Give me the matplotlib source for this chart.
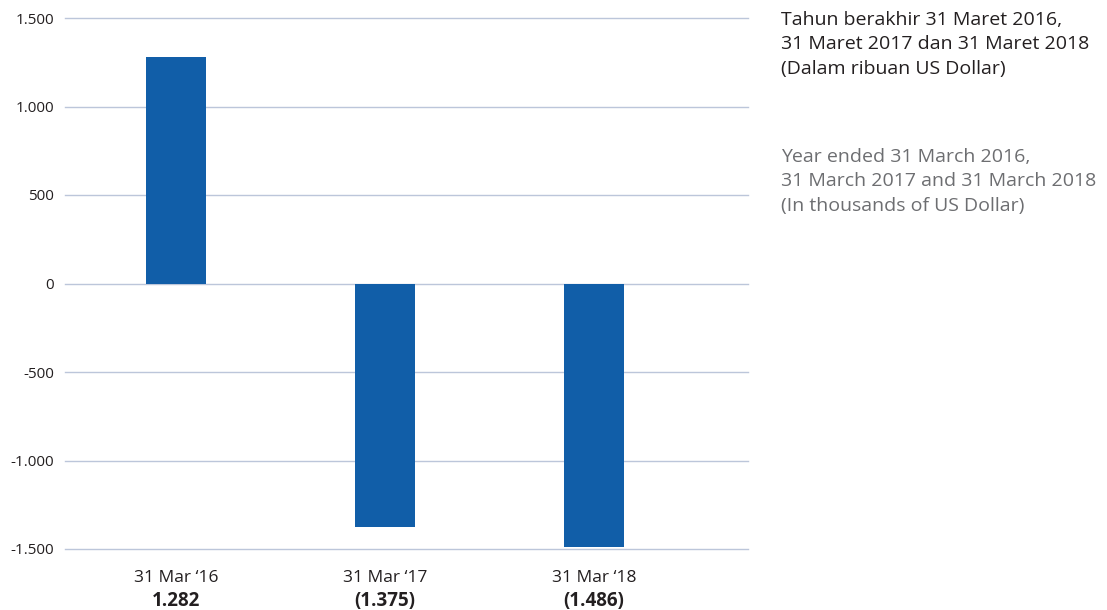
import matplotlib
matplotlib.use('Agg')
import matplotlib.pyplot as plt

plt.rcParams['font.family'] = ['Open Sans', 'DejaVu Sans']

# data
periods = ["31 Mar \u201816", "31 Mar \u201817", "31 Mar \u201818"]
values = [1282, -1375, -1486]
yticks = [-1500, -1000, -500, 0, 500, 1000, 1500]

BAR = '#115ea8'
GRID = '#bcc6da'
W, H = 1107, 610


def fmt(v):
    s = f"{abs(v):,}".replace(",", ".")
    return s if v >= 0 else f"({s})"


fig = plt.figure(figsize=(W/100, H/100), dpi=100)
ax = fig.add_axes([65/W, 1 - 549/H, (748-65)/W, (549-18)/H])

x = list(range(len(values)))
ax.bar(x, values, width=0.287, color=BAR, zorder=3)
ax.set_xlim(-0.531, 2.737)
ax.set_ylim(-1500, 1500)
ax.set_yticks(yticks)
ax.set_yticklabels([f"{v:,}".replace(",", ".") for v in yticks],
                   fontsize=11, color='#231f20')
ax.yaxis.grid(True, color=GRID, linewidth=1, zorder=0)
for gl in ax.get_ygridlines():
    gl.set_clip_on(False)
ax.tick_params(axis='y', length=0, pad=8)
ax.set_xticks([])
for s in ax.spines.values():
    s.set_visible(False)

# two-line x labels: period + bold value
for xi, p, v in zip(x, periods, values):
    px = ax.transData.transform((xi, 0))[0] / W
    fig.text(px, 1 - 578/H, p, ha='center', va='center',
             fontsize=12.5, color='#231f20')
    fig.text(px, 1 - 601/H, fmt(v), ha='center', va='center',
             fontsize=13.5, fontweight='bold', color='#231f20')

fig.text(781/W, 1 - 11/H,
         "Tahun berakhir 31 Maret 2016,\n31 Maret 2017 dan 31 Maret 2018\n(Dalam ribuan US Dollar)",
         ha='left', va='top', fontsize=14, color='#231f20', linespacing=1.45)
fig.text(781/W, 1 - 148/H,
         "Year ended 31 March 2016,\n31 March 2017 and 31 March 2018\n(In thousands of US Dollar)",
         ha='left', va='top', fontsize=14, color='#6d6e71', linespacing=1.45)

fig.savefig('out.png', dpi=100)
